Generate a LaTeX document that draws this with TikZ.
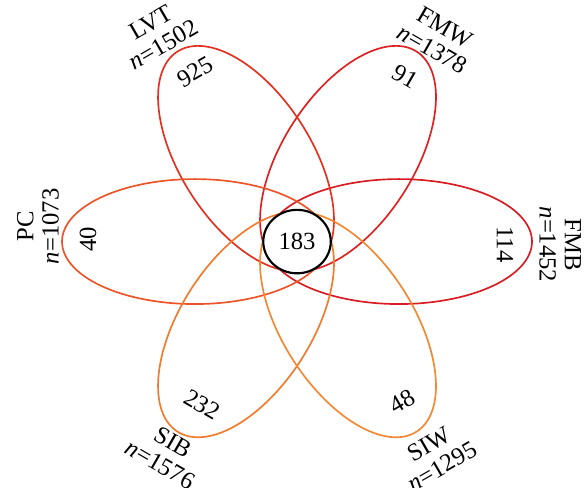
\documentclass[tikz,border=0pt]{standalone}
\usepackage{fontspec}
\setmainfont{Liberation Serif}
\usetikzlibrary{shapes.geometric}

\definecolor{cFMB}{HTML}{D81C22}
\definecolor{cFMW}{HTML}{DE2020}
\definecolor{cLVT}{HTML}{E3301F}
\definecolor{cPC}{HTML}{EC5428}
\definecolor{cSIB}{HTML}{F27A2C}
\definecolor{cSIW}{HTML}{F38732}

\begin{document}
\begin{tikzpicture}[
    x=76.5pt, y=71.9pt,
    font=\fontsize{18.5}{19}\selectfont,
    petal/.style={line width=1.25pt},
    core/.style={draw=black, ellipse, line width=1.6pt, fill=white, minimum width=50.6pt, minimum height=47.6pt, inner sep=0pt},
    count/.style={inner sep=0pt},
    setname/.style={align=center, inner sep=0pt}
]
\useasboundingbox (-2.912,-2.568) rectangle (2.843,2.520);

% Petals
\foreach \a/\col in {0/cFMB, 60/cFMW, 120/cLVT, 180/cPC, 240/cSIB, 300/cSIW}
  \draw[petal, draw=\col] plot[domain=0:360, samples=121, variable=\t]
    ({cos(\a)+1.304*cos(\t)*cos(\a)-0.652*sin(\t)*sin(\a)},
     {sin(\a)+1.304*cos(\t)*sin(\a)+0.652*sin(\t)*cos(\a)}) -- cycle;

% Core
\node[core] (core) at (0,0) {183};

% Counts and set names
\foreach \name/\num/\n/\rot/\cx/\cy/\lx/\ly in {
    FMB/114/1452/-90/2.04/-0.03/2.58/-0.03,
    FMW/91/1378/-30/1.06/1.72/1.39/2.12,
    LVT/925/1502/30/-1.0/1.77/-1.37/2.17,
    PC/40/1073/90/-2.05/0.02/-2.54/0.16,
    SIB/232/1576/-30/-0.93/-1.70/-1.28/-2.21,
    SIW/48/1295/30/1.03/-1.67/1.36/-2.23}
{
  \node[count, rotate=\rot] (num-\name) at (\cx,\cy) {\num};
  \node[setname, rotate=\rot] (lab-\name) at (\lx,\ly) {\name\\\textit{n}=\n};
}
\end{tikzpicture}
\end{document}
